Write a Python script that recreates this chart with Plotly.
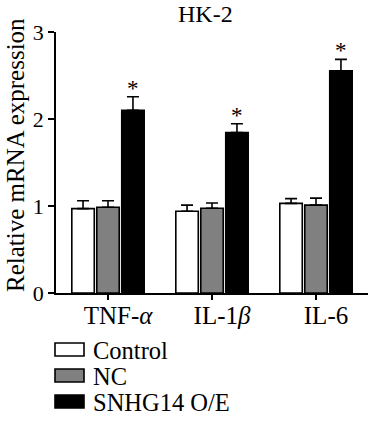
import plotly.graph_objects as go

categories = ["TNF-<i>α</i>", "IL-1<i>β</i>", "IL-6"]
series_names = ["Control", "NC", "SNHG14 O/E"]
control_vals = [0.97, 0.94, 1.03]
control_err = [0.09, 0.07, 0.055]
nc_vals = [0.985, 0.975, 1.01]
nc_err = [0.075, 0.06, 0.08]
snhg_vals = [2.10, 1.845, 2.555]
snhg_err = [0.155, 0.10, 0.13]
colors = ["#ffffff", "#808080", "#000000"]
sig_marks = ["*", "*", "*"]

FONT = "Liberation Serif"
W, H = 369, 421
PLOT_L, PLOT_R, PLOT_T, PLOT_B = 56, 368, 32, 293
ML, MT, MR, MB = PLOT_L, PLOT_T, W - PLOT_R, H - PLOT_B
PW = PLOT_R - PLOT_L
PH = PLOT_B - PLOT_T

fig = go.Figure()
for name, vals, errs, col in zip(series_names, [control_vals, nc_vals, snhg_vals],
                                 [control_err, nc_err, snhg_err], colors):
    fig.add_trace(go.Bar(
        x=categories, y=vals, name=name,
        marker=dict(color=col, line=dict(color="#000000", width=1.6)),
        error_y=dict(type="data", array=errs, arrayminus=[0] * len(errs), symmetric=False,
                     color="#000000", thickness=1.6, width=6),
        showlegend=False, hoverinfo="skip",
    ))

# significance asterisks above SNHG14 bars
slot = PW / 3 * (1 - 0.28) / 3
for cat, v, e, s in zip(categories, snhg_vals, snhg_err, sig_marks):
    fig.add_annotation(x=cat, y=v + e, text=s, showarrow=False, xshift=slot,
                       yanchor="bottom", yshift=-6,
                       font=dict(family=FONT, size=23, color="#000"))

def px_x(p):
    return (p - PLOT_L) / PW

def px_y(p):
    return (PLOT_B - p) / PH

# title
fig.add_annotation(x=px_x(205), y=px_y(14), xref="paper", yref="paper", text="HK-2",
                   showarrow=False, xanchor="center", yanchor="middle",
                   font=dict(family=FONT, size=24, color="#000"))
# y-axis title
fig.add_annotation(x=px_x(15), y=px_y(155), xref="paper", yref="paper",
                   text="Relative mRNA expression", textangle=-90, showarrow=False,
                   xanchor="center", yanchor="middle",
                   font=dict(family=FONT, size=25, color="#000"))

# legend (manual)
for i, (name, col) in enumerate(zip(series_names, colors)):
    top = 343 + 26 * i
    fig.add_shape(type="rect", xref="paper", yref="paper",
                  x0=px_x(55), x1=px_x(84), y0=px_y(top), y1=px_y(top + 13),
                  fillcolor=col, line=dict(color="#000", width=1.6))
    fig.add_annotation(x=px_x(91), y=px_y(top + 7), xref="paper", yref="paper",
                       text=name, showarrow=False, xanchor="left", yanchor="middle",
                       font=dict(family=FONT, size=24.5, color="#000"))

fig.update_layout(
    width=W, height=H,
    margin=dict(l=ML, r=MR, t=MT, b=MB, pad=0),
    paper_bgcolor="white", plot_bgcolor="white",
    barmode="group", bargap=0.28, bargroupgap=0.1,
    font=dict(family=FONT, size=22, color="#000"),
    xaxis=dict(showline=True, linecolor="#000", linewidth=1.8, ticks="outside",
               ticklen=5, tickwidth=1.5, tickcolor="#000", showgrid=False,
               tickfont=dict(family=FONT, size=25), ticklabelshift=10,
               ticklabelstandoff=-6),
    yaxis=dict(range=[0, 3], tickvals=[0, 1, 2, 3], showline=True, linecolor="#000",
               linewidth=1.8, ticks="outside", ticklen=6, tickwidth=1.5, tickcolor="#000",
               showgrid=False, zeroline=False, tickfont=dict(family=FONT, size=22)),
)

fig.write_html("out.html", post_script="document.body.style.margin='0';",
               config={"displayModeBar": False, "staticPlot": True})
